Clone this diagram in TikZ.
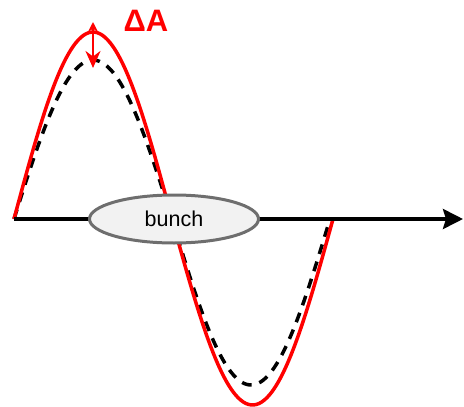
\documentclass[tikz,border=0pt]{standalone}
\usepackage{fontspec}
\setmainfont{Liberation Sans}
\usetikzlibrary{arrows.meta, shapes.geometric}

\definecolor{bunchfill}{HTML}{F2F2F2}
\definecolor{bunchdraw}{HTML}{6E6E6E}

\begin{document}
\begin{tikzpicture}[
    x=1pt, y=-1pt,
    wave/.style={red, line width=3.5pt, smooth},
    shifted/.style={black, line width=3.5pt, dash pattern=on 10pt off 8pt, smooth},
    bunchnode/.style={ellipse, draw=bunchdraw, fill=bunchfill, line width=3pt,
      minimum width=169pt, minimum height=48pt, font=\fontsize{21.5}{24}\selectfont},
    label/.style={red, font=\fontsize{31}{34}\selectfont\bfseries},
    >=Stealth
  ]
  \useasboundingbox (0,0) rectangle (464,407);

  % --- axis ---
  \coordinate (origin) at (14,219);
  \coordinate (axisend) at (463,219);

  % --- dashed wave (reduced amplitude) ---
  \draw[shifted] plot[domain=14:172, samples=60]
    (\x, {219-159*sin((\x-14)/158*180)});
  \draw[shifted] plot[domain=172:330, samples=60]
    (\x, {219+166*sin((\x-172)/158*180)});

  % --- red wave ---
  \draw[wave] plot[domain=14:172, samples=60]
    (\x, {219-187*sin((\x-14)/158*180)});
  \draw[wave] plot[domain=172:333, samples=60]
    (\x, {219+186*sin((\x-172)/161*180)});

  \draw[line width=3.5pt, -{Stealth[length=20pt, width=20pt, inset=3pt]}] (origin) -- (axisend);

  % --- amplitude change ---
  \coordinate (amptop) at (93,22);
  \coordinate (ampbot) at (93,68);
  \draw[red, line width=2.5pt, {Stealth[length=10pt, width=10pt]}-{Stealth[length=17pt, width=15pt]}]
    (amptop) -- (ampbot);
  \node[label, anchor=west] (dA) at (120,21) {ΔA};

  % --- bunch ---
  \node[bunchnode] (bunch) at (174,219) {bunch};

\end{tikzpicture}
\end{document}
